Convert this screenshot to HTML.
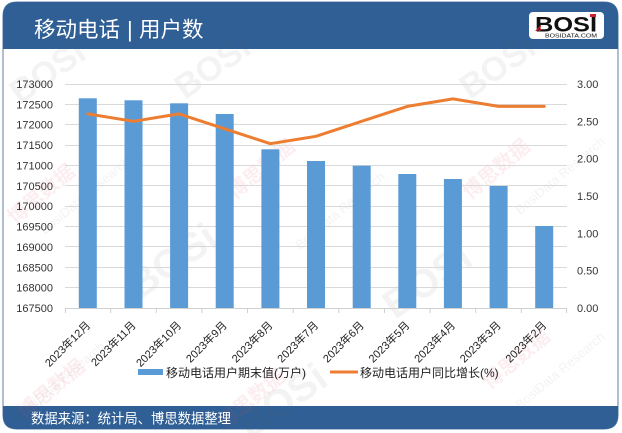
<!DOCTYPE html>
<html>
<head>
<meta charset="utf-8">
<style>
html,body{margin:0;padding:0;background:#fff;}
svg{display:block;}
text{font-family:"Liberation Sans","Noto Sans CJK SC",sans-serif;}
</style>
</head>
<body>
<svg width="622" height="433" viewBox="0 0 622 433" xmlns="http://www.w3.org/2000/svg">
  <rect x="0" y="0" width="622" height="433" fill="#ffffff"/>

  <!-- card -->
  <path d="M3,16 Q3,2 17,2 L604,2 Q618,2 618,16 L618,415 Q618,429 604,429 L17,429 Q3,429 3,415 Z" fill="#ffffff" stroke="#5d7fa6" stroke-width="1"/>
  <!-- header -->
  <path d="M3,16 Q3,2 17,2 L604,2 Q618,2 618,16 L618,49 L3,49 Z" fill="#2f5f94"/>
  <!-- footer -->
  <path d="M3,406 L618,406 L618,415 Q618,429 604,429 L17,429 Q3,429 3,415 Z" fill="#2f5f94"/>

  <!-- watermarks -->
  <g opacity="0.08" fill="#666" font-weight="bold">
    <text x="20" y="105" font-size="34" transform="rotate(-35 20 105)">BOSi</text>
    <text x="185" y="100" font-size="34" transform="rotate(-35 185 100)">BOSi</text>
    <text x="470" y="100" font-size="34" transform="rotate(-35 470 100)">BOSi</text>
    <text x="140" y="300" font-size="40" transform="rotate(-35 140 300)">BOSi</text>
    <text x="395" y="320" font-size="40" transform="rotate(-35 395 320)">BOSi</text>
    <text x="250" y="440" font-size="40" transform="rotate(-35 250 440)">BOSi</text>
  </g>
  <g opacity="0.1" fill="#e0506a" font-weight="bold">
    <text x="15" y="225" font-size="20" transform="rotate(-40 15 225)">博思数据</text>
    <text x="235" y="200" font-size="20" transform="rotate(-40 235 200)">博思数据</text>
    <text x="470" y="200" font-size="20" transform="rotate(-40 470 200)">博思数据</text>
    <text x="25" y="420" font-size="20" transform="rotate(-40 25 420)">博思数据</text>
    <text x="225" y="430" font-size="20" transform="rotate(-40 225 430)">博思数据</text>
    <text x="490" y="390" font-size="20" transform="rotate(-40 490 390)">博思数据</text>
  </g>
  <g opacity="0.08" fill="#666">
    <text x="45" y="235" font-size="13" transform="rotate(-40 45 235)">BosiData Research</text>
    <text x="300" y="250" font-size="13" transform="rotate(-40 300 250)">BosiData Research</text>
    <text x="520" y="215" font-size="13" transform="rotate(-40 520 215)">BosiData Research</text>
    <text x="20" y="420" font-size="13" transform="rotate(-40 20 420)">BosiData Research</text>
    <text x="520" y="410" font-size="13" transform="rotate(-40 520 410)">BosiData Research</text>
  </g>

  <!-- title -->
  <text x="34" y="37" font-size="21.5" fill="#ffffff" font-family="'Liberation Sans','Noto Sans CJK SC',sans-serif">移动电话</text>
  <text x="127" y="37" font-size="22" fill="#ffffff">|</text>
  <text x="139" y="37" font-size="21.5" fill="#ffffff" font-family="'Liberation Sans','Noto Sans CJK SC',sans-serif">用户数</text>

  <!-- logo -->
  <rect x="529" y="12" width="75" height="27" rx="4" fill="#ffffff"/>
  <text x="535" y="31.5" font-size="21" font-weight="bold" fill="#111" textLength="62" lengthAdjust="spacingAndGlyphs">BOSI</text>
  <path d="M535,31 L541,25 L541,27 L537,31 Z M538,31 L541,28 L541,30 L540,31 Z" fill="#d02030"/>
  <rect x="590" y="14" width="6" height="3" fill="#d02030"/>
  <text x="545" y="37.5" font-size="5.5" fill="#111" textLength="52" lengthAdjust="spacingAndGlyphs">BOSIDATA.COM</text>

  <!-- gridlines -->
  <g stroke="#d9d9d9" stroke-width="1">
    <line x1="65" y1="84.5" x2="567" y2="84.5"/>
    <line x1="65" y1="104.5" x2="567" y2="104.5"/>
    <line x1="65" y1="124.5" x2="567" y2="124.5"/>
    <line x1="65" y1="145.5" x2="567" y2="145.5"/>
    <line x1="65" y1="165.5" x2="567" y2="165.5"/>
    <line x1="65" y1="185.5" x2="567" y2="185.5"/>
    <line x1="65" y1="206.5" x2="567" y2="206.5"/>
    <line x1="65" y1="226.5" x2="567" y2="226.5"/>
    <line x1="65" y1="246.5" x2="567" y2="246.5"/>
    <line x1="65" y1="267.5" x2="567" y2="267.5"/>
    <line x1="65" y1="287.5" x2="567" y2="287.5"/>
  </g>

  <!-- bars -->
  <g fill="#5b9bd5">
    <rect x="78.8" y="98.3" width="18" height="209.7"/>
    <rect x="124.5" y="100.3" width="18" height="207.7"/>
    <rect x="170.1" y="103.3" width="18" height="204.7"/>
    <rect x="215.7" y="114" width="18" height="194"/>
    <rect x="261.4" y="149.3" width="18" height="158.7"/>
    <rect x="307" y="161" width="18" height="147"/>
    <rect x="352.7" y="165.7" width="18" height="142.3"/>
    <rect x="398.3" y="174" width="18" height="134"/>
    <rect x="443.9" y="179" width="18" height="129"/>
    <rect x="489.6" y="186" width="18" height="122"/>
    <rect x="535.2" y="226" width="18" height="82"/>
  </g>

  <!-- axis line + ticks -->
  <g stroke="#d0d0d0" stroke-width="1">
    <line x1="65" y1="308.5" x2="567" y2="308.5"/>
    <line x1="65.5" y1="308" x2="65.5" y2="313"/>
    <line x1="110.6" y1="308" x2="110.6" y2="313"/>
    <line x1="156.3" y1="308" x2="156.3" y2="313"/>
    <line x1="201.9" y1="308" x2="201.9" y2="313"/>
    <line x1="247.5" y1="308" x2="247.5" y2="313"/>
    <line x1="293.2" y1="308" x2="293.2" y2="313"/>
    <line x1="338.8" y1="308" x2="338.8" y2="313"/>
    <line x1="384.5" y1="308" x2="384.5" y2="313"/>
    <line x1="430.1" y1="308" x2="430.1" y2="313"/>
    <line x1="475.7" y1="308" x2="475.7" y2="313"/>
    <line x1="521.4" y1="308" x2="521.4" y2="313"/>
    <line x1="566.5" y1="308" x2="566.5" y2="313"/>
  </g>

  <!-- line series -->
  <polyline fill="none" stroke="#ed7d31" stroke-width="3" stroke-linejoin="round" stroke-linecap="round"
    points="87.8,113.9 133.5,121.3 179.1,113.9 224.7,128.8 270.4,143.7 316,136.3 361.7,121.3 407.3,106.4 452.9,98.9 498.6,106.4 544.2,106.4"/>

  <!-- left axis labels -->
  <g font-size="11" fill="#333" text-anchor="end">
    <text x="53" y="88">173000</text>
    <text x="53" y="108.4">172500</text>
    <text x="53" y="128.7">172000</text>
    <text x="53" y="149.1">171500</text>
    <text x="53" y="169.5">171000</text>
    <text x="53" y="189.8">170500</text>
    <text x="53" y="210.2">170000</text>
    <text x="53" y="230.5">169500</text>
    <text x="53" y="250.9">169000</text>
    <text x="53" y="271.3">168500</text>
    <text x="53" y="291.6">168000</text>
    <text x="53" y="312">167500</text>
  </g>

  <!-- right axis labels -->
  <g font-size="11" fill="#333">
    <text x="577" y="88">3.00</text>
    <text x="577" y="125.3">2.50</text>
    <text x="577" y="162.7">2.00</text>
    <text x="577" y="200">1.50</text>
    <text x="577" y="237.3">1.00</text>
    <text x="577" y="274.7">0.50</text>
    <text x="577" y="312">0.00</text>
  </g>

  <!-- x labels -->
  <g font-size="11" fill="#222" text-anchor="end" font-family="'Liberation Sans','Noto Sans CJK SC',sans-serif">
    <text x="91" y="326" transform="rotate(-45 91 326)">2023年12月</text>
    <text x="136.5" y="326" transform="rotate(-45 136.5 326)">2023年11月</text>
    <text x="182.1" y="326" transform="rotate(-45 182.1 326)">2023年10月</text>
    <text x="227.7" y="326" transform="rotate(-45 227.7 326)">2023年9月</text>
    <text x="273.4" y="326" transform="rotate(-45 273.4 326)">2023年8月</text>
    <text x="319" y="326" transform="rotate(-45 319 326)">2023年7月</text>
    <text x="364.7" y="326" transform="rotate(-45 364.7 326)">2023年6月</text>
    <text x="410.3" y="326" transform="rotate(-45 410.3 326)">2023年5月</text>
    <text x="455.9" y="326" transform="rotate(-45 455.9 326)">2023年4月</text>
    <text x="501.6" y="326" transform="rotate(-45 501.6 326)">2023年3月</text>
    <text x="547.2" y="326" transform="rotate(-45 547.2 326)">2023年2月</text>
  </g>

  <!-- legend -->
  <rect x="138" y="369" width="25" height="6" fill="#5b9bd5"/>
  <text x="166" y="377" font-size="12" fill="#222" font-family="'Liberation Sans','Noto Sans CJK SC',sans-serif">移动电话用户期末值(万户)</text>
  <line x1="330" y1="372" x2="358" y2="372" stroke="#ed7d31" stroke-width="3"/>
  <text x="360" y="377" font-size="12" fill="#222" font-family="'Liberation Sans','Noto Sans CJK SC',sans-serif">移动电话用户同比增长(%)</text>

  <!-- footer text -->
  <text x="31" y="423.5" font-size="14" fill="#ffffff" textLength="200" lengthAdjust="spacingAndGlyphs" font-family="'Liberation Sans','Noto Sans CJK SC',sans-serif">数据来源：统计局、博思数据整理</text>
</svg>
</body>
</html>
